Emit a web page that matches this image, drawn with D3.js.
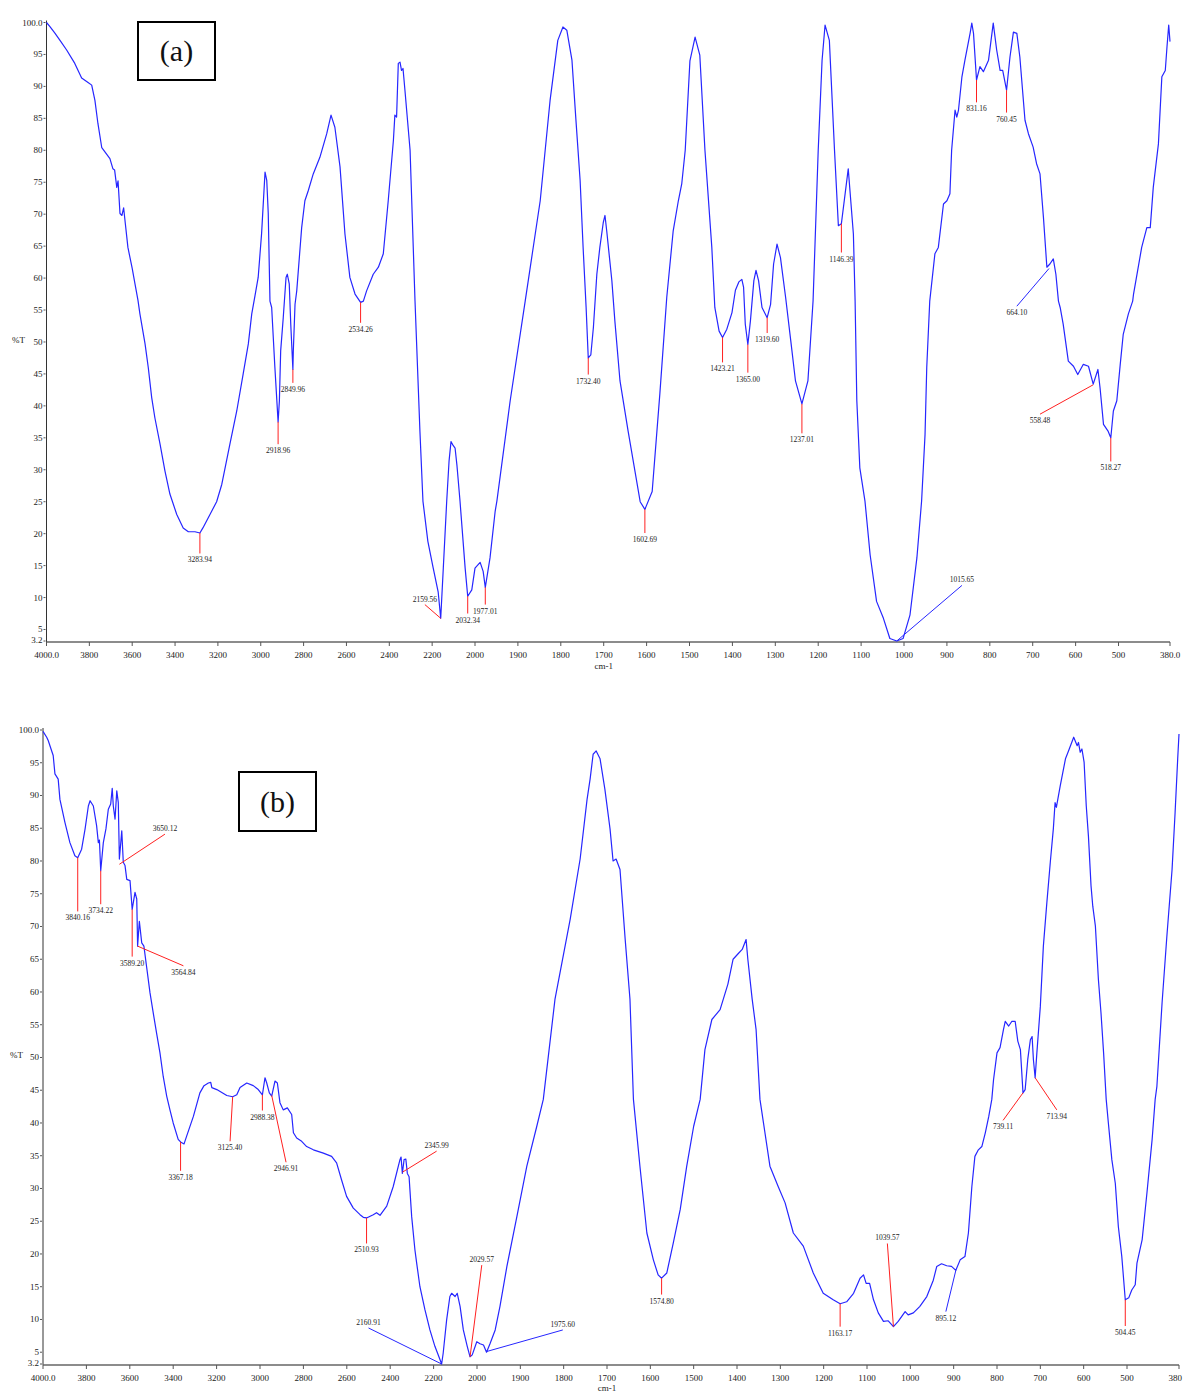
<!DOCTYPE html>
<html>
<head>
<meta charset="utf-8">
<script src="https://cdn.jsdelivr.net/npm/d3@7"></script>
<style>
  body { margin: 0; background: #fff; }
  svg { display: block; font-family: "Liberation Serif", "DejaVu Serif", serif; }
</style>
</head>
<body>
<svg id="chart" width="1183" height="1394"></svg>
<script>
// x ticks (cm-1), the axis is compressed by 2 above 2000
var xTicks = [4000,3800,3600,3400,3200,3000,2800,2600,2400,2200,2000,1900,1800,1700,1600,1500,1400,1300,1200,1100,1000,900,800,700,600,500,380];
var yTicks = [100,95,90,85,80,75,70,65,60,55,50,45,40,35,30,25,20,15,10,5,3.2];

// spectrum (a)
var wnA = [4000,3983,3960,3937,3906,3868,3836,3806,3789,3774,3760,3742,3704,3690,3682,3672,3666,3657,3648,3640,3632,3620,3600,3587,3573,3564,3540,3525,3509,3494,3470,3447,3424,3392,3362,3338,3307,3284,3270,3237,3206,3182,3144,3112,3082,3058,3042,3027,3012,2996,2980,2972,2965,2957,2949,2934,2919,2913,2907,2895,2882,2876,2867,2864,2860,2850,2848,2840,2832,2809,2794,2778,2755,2724,2692,2672,2654,2630,2607,2584,2560,2534,2521,2506,2475,2451,2428,2405,2381,2374,2366,2358,2350,2343,2336,2327,2303,2280,2257,2243,2220,2195,2172,2160,2148,2132,2121,2112,2102,2093,2084,2070,2046,2034,2015,2000,1988,1981,1976,1965,1953,1949,1918,1883,1848,1825,1807,1795,1786,1774,1765,1755,1748,1741,1736,1730,1724,1716,1709,1701,1697,1693,1685,1681,1674,1662,1643,1615,1604,1587,1569,1553,1538,1526,1518,1510,1499,1487,1476,1464,1448,1441,1431,1423,1413,1401,1393,1385,1378,1374,1370,1364,1358,1350,1345,1339,1331,1319,1311,1304,1296,1288,1276,1264,1253,1238,1224,1212,1200,1191,1184,1174,1162,1153,1146,1130,1118,1114,1110,1103,1091,1079,1064,1048,1033,1017,1002,986,970,959,951,947,940,928,920,908,900,893,889,881,877,873,865,858,846,842,838,831,823,815,803,792,784,776,770,761,753,745,737,730,718,710,699,691,683,675,667,660,652,646,640,636,629,617,605,595,582,570,559,548,543,535,524,518,512,504,496,489,477,467,465,446,434,426,419,407,399,391,387,383,380];
var tA = [100,99.3,98.3,97.2,95.7,93.6,91.3,90.6,90.2,87.8,84.2,80.4,78.7,77.1,76.9,74.2,75.2,70.1,69.8,71,68.5,64.8,61.5,59.1,56.5,54.4,49.7,46,41.3,38.1,34,29.8,26.2,23,20.9,20.3,20.3,20.1,20.9,23,25,27.7,34,39.2,45,49.7,54.4,57.2,60.1,67,76.6,75.3,70.1,56.4,55.4,46,37.5,40.8,48.6,53.8,60.1,60.6,59.1,56.4,52.8,45.7,48.6,55.9,58,67.9,72.1,73.7,76.3,78.9,82.6,85.5,83.6,77.4,66.9,60.1,57.5,56.2,56.4,58,60.6,61.7,63.8,72.1,81.5,85.5,85.2,93.6,93.8,92.5,92.8,89.4,80,56.4,36,25.1,18.8,14.6,10.9,6.75,14.6,25.1,31.4,34.4,33.8,33.4,30.6,25.1,14.6,10.2,11.2,14.6,15.5,14.1,11.6,16.2,23.5,25.1,40.8,56.4,72.1,87.8,97.2,99.3,98.8,94.1,85,75.3,64.8,55.4,47.5,48,52.3,60.6,64.8,68.7,69.8,67.4,62.2,59.6,53.3,43.9,36,25,23.8,26.6,42,57,67.4,72.1,74.8,80,94,97.7,94.9,80,64.8,55.4,51.7,50.7,52,54.6,58.1,59.4,59.8,58.6,52.8,49.6,53.3,59.6,61.2,59.6,55.4,53.8,55.9,62.2,65.3,63.2,57,50.2,43.9,40.3,43.9,56.4,80,94.1,99.6,97.2,80,68.2,68.5,77.1,66.9,56.4,40.8,30.3,25.1,16.7,9.4,6.75,3.6,3.2,3.6,7.3,16.2,25.1,35.5,46,56.4,63.8,64.8,71.6,72.1,73.2,80,86.3,85.2,86.3,91.5,94.1,98.3,99.9,98.3,91,93.1,92.3,94.1,99.9,95.7,92.5,92.5,89.4,94.6,98.5,98.3,94.6,84.7,82.6,80.5,77.9,76.3,69.5,61.7,62.2,63,60.6,56.4,55.4,52.8,47,46.2,44.9,46.5,46.2,43.4,45.7,42.8,37.1,36,35,39.2,40.8,46.5,51.2,54.4,56.4,57.5,64.8,67.9,67.9,74.2,81,91.5,92.5,96.2,99.6,97];

// peak labels (a): text, curve point, leader end point
var peakTextA = ["3283.94","2918.96","2849.96","2534.26","2159.56","2032.34","1977.01","1732.40","1602.69","1423.21","1365.00","1319.60","1237.01","1146.39","1015.65","831.16","760.45","664.10","558.48","518.27"];
var peakWnA  = [3284,2919,2850,2534,2160,2034,1976,1736,1604,1423,1364,1319,1238,1146,1017,831,761,662,559,518];
var peakTA   = [20.1,37.5,45.7,56.2,6.75,10.2,11.6,47.5,23.8,50.7,49.6,53.8,40.3,68.5,3.2,91,89.4,61.5,43.3,35];
var tipWnA   = [3284,2919,2850,2534,2234,2034,1976,1736,1604,1423,1364,1319,1238,1146,865,831,761,737,683,518];
var tipTA    = [16.9,34.0,43.6,53.0,8.9,7.5,8.9,44.9,20.1,46.8,45.2,51.4,35.7,64,11.9,87.5,85.9,55.6,38.7,31.3];
var blueLeadersA = ["1015.65","664.10"];

// spectrum (b)
var wnB = [4000,3983,3976,3968,3953,3945,3930,3922,3914,3899,3876,3853,3840,3822,3806,3791,3783,3768,3753,3745,3740,3734,3722,3710,3699,3688,3681,3676,3668,3660,3653,3648,3637,3630,3622,3614,3599,3589,3576,3568,3564,3556,3545,3535,3522,3507,3492,3477,3461,3446,3430,3415,3400,3377,3366,3350,3338,3307,3277,3258,3238,3227,3222,3199,3153,3126,3107,3092,3061,3031,3008,2989,2977,2969,2957,2946,2931,2920,2908,2893,2874,2854,2846,2831,2808,2785,2754,2708,2670,2647,2624,2601,2570,2539,2524,2509,2478,2463,2447,2416,2386,2355,2350,2344,2336,2328,2321,2313,2301,2286,2278,2263,2240,2217,2194,2179,2163,2156,2140,2125,2117,2101,2091,2078,2063,2045,2032,2022,2001,1993,1985,1978,1970,1958,1947,1931,1908,1885,1862,1847,1820,1785,1762,1746,1739,1732,1725,1716,1705,1693,1686,1679,1670,1658,1647,1639,1624,1608,1593,1582,1574,1562,1547,1531,1516,1500,1485,1474,1458,1439,1421,1409,1398,1388,1379,1375,1365,1356,1347,1324,1305,1289,1270,1247,1224,1201,1178,1162,1147,1131,1116,1108,1102,1094,1085,1074,1062,1051,1039,1028,1012,1005,993,978,962,947,939,928,916,905,895,885,874,866,858,851,843,835,827,819,812,808,800,793,785,781,773,766,758,752,746,740,735,729,723,719,716,712,708,700,693,685,677,670,666,663,654,642,635,623,615,612,608,604,599,594,589,583,579,573,566,560,554,548,543,535,527,520,512,504,496,489,481,477,465,454,442,435,431,419,408,396,389,383,380];
var tB = [99.8,98.9,98.4,97.6,96.1,93.3,92.5,89.4,88.2,85.9,82.8,80.8,80.5,81.8,84.9,88.4,89.2,88.4,85.4,82.8,83.2,78.5,82.8,84.9,87.9,88.7,91.1,88.4,86.4,90.7,88.9,80.3,84.6,79.8,79.3,77.2,77,72.6,75.2,74.2,67,70.8,67.5,67,63.7,59.9,56.8,53.8,50.7,47.1,44.1,42,40,37.5,37.1,36.8,38,41,44.6,45.7,46.1,46.2,45.4,45.1,44.2,44,44.3,45.4,46.1,45.7,45.1,44.3,46.9,46.1,44.6,44.1,46.4,46.1,43.1,42,42.3,41.3,38.5,37.7,37.2,36.4,35.9,35.4,34.9,33.9,31.3,28.8,27,26,25.6,25.5,26,26.3,25.9,27.3,30.3,34.4,34.8,32.3,34.4,34.5,32.3,31.8,25.7,20.6,18.6,15,11.5,8.4,5.9,4.6,3.2,4.8,9.9,13.5,14,13.5,14,12,8.4,5.9,4.3,4.6,6.6,6.3,6.1,5,6.3,8.4,12,18.1,25.7,33.4,39.5,43.6,58.9,71.1,80.3,89.4,92.5,96.3,96.8,95.6,91,84.9,80,80.3,78.7,68,58.9,43.6,33.4,23.2,19.1,16.8,16.3,17.1,21.7,26.8,33.4,39.5,43.6,51.2,55.8,57.3,61.2,65,65.8,66.5,68,65,58.9,54.3,43.6,33.4,30.3,27.8,23.2,21.2,17.1,14,13,12.4,12.7,14,16.3,16.8,15.5,15.5,13,11,9.7,9.8,8.9,9.7,11.2,10.7,11,12,13.5,16,18.1,18.5,18.2,18.1,17.5,19.1,19.6,23.2,30.3,34.9,35.9,36.4,38.5,41,43.6,46.6,50.7,51.5,54.3,55.5,54.8,55.5,55.5,52.5,51.2,44.6,45.1,49.7,52.7,53.2,49.7,46.9,50.7,57.8,67,73.6,79.8,84.9,88.9,88.2,91.5,95.6,96.8,98.9,97.6,98.1,96.6,97.1,95.1,88.4,83.8,76.2,73.1,70.1,61.9,56.8,50.7,43.6,40,34.4,30.8,24.2,19.6,13,13.3,14.5,15.3,18.6,22.2,29.3,37.5,43.6,45.6,58.4,68.5,78.7,87.4,95.6,99.4];

// peak labels (b)
var peakTextB = ["3840.16","3734.22","3650.12","3589.20","3564.84","3367.18","3125.40","2988.38","2946.91","2510.93","2345.99","2160.91","2029.57","1975.60","1574.80","1163.17","1039.57","895.12","739.11","713.94","504.45"];
var peakWnB  = [3840,3734,3648,3589,3564,3366,3126,2989,2946,2509,2343,2163,2032,1978,1574,1162,1039,895,740,712,504];
var peakTB   = [80.5,78.5,79.5,72.6,67,37.1,44,44.3,44.2,25.5,32.5,3.2,4.3,5.1,16.3,12.4,8.9,17.5,44.6,46.9,13];
var tipWnB   = [3840,3734,3438,3589,3353,3366,3138,2989,2880,2509,2186,2500,1989,1802,1574,1162,1053,918,786,662,504];
var tipTB    = [72.3,73.4,84.1,65.4,64,32.7,37.2,41.9,34,21.6,35.7,8.7,18.3,8.4,13.8,8.9,21.6,11.2,40.4,42,9];
var blueLeadersB = ["2160.91","1975.60","895.12"];

var svg = d3.select("#chart");
var curveColor = "#2626ff";
var pageWidth = 1183;

function fmtX(v) { return (v == 4000 || v == 380) ? v.toFixed(1) : String(v); }
function fmtY(v) { return v == 100 ? "100.0" : String(v); }

function drawPanel(p) {
  var x = d3.scaleLinear().domain([4000, 2000, 380]).range(p.xr);
  var y = d3.scaleLinear().domain([3.2, 100]).range(p.yr);
  var g = svg.append("g");

  // y axis
  g.append("line")
    .attr("x1", p.xr[0]).attr("x2", p.xr[0])
    .attr("y1", p.yr[1] - 2).attr("y2", p.yr[0] + 1)
    .attr("stroke", "#333").attr("stroke-width", 1);
  yTicks.forEach(function(v) {
    g.append("line")
      .attr("x1", p.xr[0] - 3).attr("x2", p.xr[0] - 1)
      .attr("y1", y(v)).attr("y2", y(v))
      .attr("stroke", "#555").attr("stroke-width", 1);
    g.append("text")
      .attr("x", p.xr[0] - p.yLabGap).attr("y", y(v) + (v == 3.2 ? 2 : 3))
      .attr("text-anchor", "end").attr("font-size", 9).attr("fill", "#222")
      .text(fmtY(v));
  });
  g.append("text").attr("x", p.pctX).attr("y", y(50) + 1)
    .attr("font-size", 9).attr("fill", "#222").text("%T");

  // x axis
  var axY = y(3.2) + 1;
  g.append("line")
    .attr("x1", p.xr[0]).attr("x2", p.xr[2])
    .attr("y1", axY).attr("y2", axY)
    .attr("stroke", "#666").attr("stroke-width", 1.6);
  xTicks.forEach(function(v) {
    g.append("line")
      .attr("x1", x(v)).attr("x2", x(v))
      .attr("y1", axY).attr("y2", axY + 4)
      .attr("stroke", "#555").attr("stroke-width", 1);
    // the last label of the wider panel would run off the page: pin it to the edge
    var lab = g.append("text")
      .attr("x", x(v)).attr("y", axY + 16)
      .attr("text-anchor", "middle").attr("font-size", 9).attr("fill", "#222")
      .text(fmtX(v));
    if (v == 380 && x(v) + 12 > pageWidth) {
      lab.attr("x", pageWidth - 1).attr("text-anchor", "end").text("380");
    }
  });
  g.append("text").attr("x", x(1700)).attr("y", axY + p.unitDy)
    .attr("text-anchor", "middle").attr("font-size", 9).attr("fill", "#222")
    .text("cm-1");

  // spectrum
  var pts = p.wn.map(function(w, i) { return [w, p.t[i]]; });
  var line = d3.line().x(function(d) { return x(d[0]); }).y(function(d) { return y(Math.max(3.2, d[1])); });
  g.append("path").datum(pts)
    .attr("d", line)
    .attr("fill", "none").attr("stroke", curveColor).attr("stroke-width", 1.2)
    .attr("stroke-linejoin", "round");

  // peak leaders and labels
  p.peakText.forEach(function(txt, i) {
    var blue = p.blue.indexOf(txt) >= 0;
    var x1 = x(p.peakWn[i]), y1 = y(p.peakT[i]);
    var x2 = x(p.tipWn[i]), y2 = y(p.tipT[i]);
    g.append("line")
      .attr("x1", x1).attr("y1", y1).attr("x2", x2).attr("y2", y2)
      .attr("stroke", blue ? curveColor : "#ff2020").attr("stroke-width", 1);
    var below = p.tipT[i] < p.peakT[i];
    g.append("text")
      .attr("x", x2).attr("y", below ? y2 + 9 : y2 - 3)
      .attr("text-anchor", "middle").attr("font-size", 7.5).attr("fill", "#222")
      .text(txt);
  });

  // panel tag
  g.append("rect")
    .attr("x", p.box[0]).attr("y", p.box[1]).attr("width", p.box[2]).attr("height", p.box[3])
    .attr("fill", "#fff").attr("stroke", "#000").attr("stroke-width", 2);
  g.append("text")
    .attr("x", p.box[0] + p.box[2] / 2).attr("y", p.box[1] + p.box[3] / 2 + 10)
    .attr("text-anchor", "middle").attr("font-size", 30).attr("fill", "#111")
    .text(p.tag);
}

drawPanel({
  wn: wnA, t: tA, xr: [46.5, 475, 1170], yr: [641, 22.5],
  peakText: peakTextA, peakWn: peakWnA, peakT: peakTA, tipWn: tipWnA, tipT: tipTA, blue: blueLeadersA,
  box: [138, 22, 77, 58], tag: "(a)", pctX: 12, yLabGap: 4, unitDy: 27
});
drawPanel({
  wn: wnB, t: tB, xr: [43, 477, 1179], yr: [1364, 730],
  peakText: peakTextB, peakWn: peakWnB, peakT: peakTB, tipWn: tipWnB, tipT: tipTB, blue: blueLeadersB,
  box: [239, 772, 77, 59], tag: "(b)", pctX: 10, yLabGap: 4, unitDy: 26
});
</script>
</body>
</html>
